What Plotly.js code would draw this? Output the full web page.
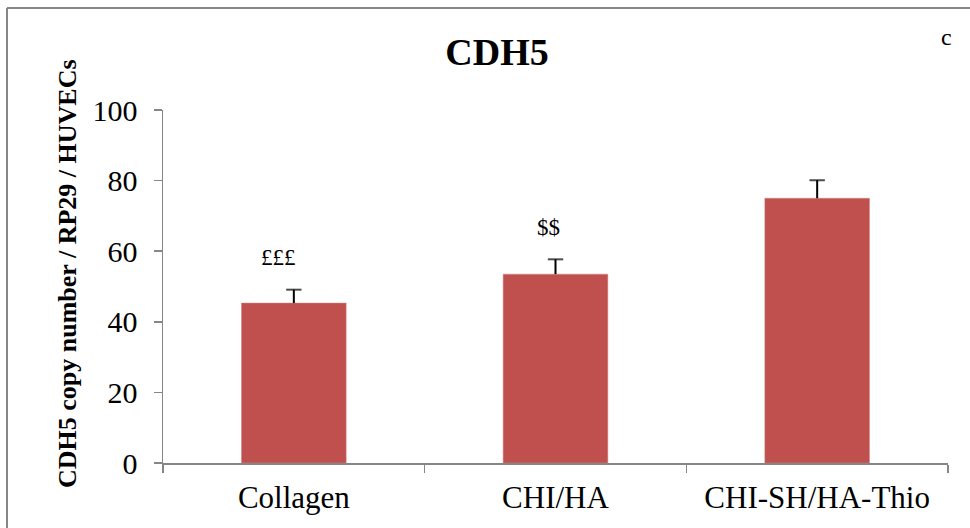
<!DOCTYPE html>
<html>
<head>
<meta charset="utf-8">
<script src="https://cdn.plot.ly/plotly-3.0.1.min.js"></script>
<style>html,body{margin:0;padding:0;background:#fff;}#chart{width:970px;height:528px;}</style>
</head>
<body>
<div id="chart"></div>
<script>
// ---- data ----
const categories = ['Collagen', 'CHI/HA', 'CHI-SH/HA-Thio'];
const values = [45.3, 53.5, 75.0];
const errPlus = [3.8, 4.2, 5.1];
const sigLabels = ['£££', '$$', ''];
const yTicks = [0, 20, 40, 60, 80, 100];
const titleText = 'CDH5';
const yTitleText = 'CDH5 copy number / RP29 / HUVECs';
const panelLabel = 'c';

const FONT = "Liberation Serif, Times New Roman, serif";
const L = 163, R = 948, T = 110, B = 463, W = 970, H = 528;
const px2paperX = x => (x - L) / (R - L);
const px2paperY = y => (B - y) / (B - T);

// error bars as plus-only whiskers
const ex = [], ey = [], es = [];
categories.forEach((c, i) => {
  ex.push(c, c, null);
  ey.push(values[i], values[i] + errPlus[i], null);
  es.push(0, 11, 0);
});

const traces = [
  {
    type: 'bar', x: categories, y: values,
    marker: {color: '#C0504D', line: {color: '#D08080', width: 0.5}},
    hoverinfo: 'x+y'
  },
  {
    type: 'scatter', mode: 'lines+markers', x: ex, y: ey,
    line: {color: '#000', width: 2},
    marker: {symbol: 'line-ew-open', size: es, color: '#000', line: {color: '#000', width: 2}},
    connectgaps: false, hoverinfo: 'skip', showlegend: false
  }
];

const sigY = [58.1, 66.6, 0];
const sigShift = [-15, -7, 0];
const annotations = [];
sigLabels.forEach((s, i) => {
  if (!s) return;
  annotations.push({
    xref: 'x', yref: 'y', x: categories[i], y: sigY[i], xshift: sigShift[i],
    text: s, showarrow: false, font: {family: FONT, size: 23, color: '#000'},
    xanchor: 'center', yanchor: 'middle'
  });
});
annotations.push({
  xref: 'paper', yref: 'paper', x: px2paperX(946), y: px2paperY(37),
  text: panelLabel, showarrow: false, font: {family: FONT, size: 24, color: '#000'},
  xanchor: 'center', yanchor: 'middle'
});
annotations.push({
  xref: 'paper', yref: 'paper', x: px2paperX(67), y: px2paperY(274),
  text: '<b>' + yTitleText + '</b>', textangle: -90, showarrow: false,
  font: {family: FONT, size: 26, color: '#000'},
  xanchor: 'center', yanchor: 'middle'
});

const layout = {
  width: W, height: H,
  margin: {l: L, r: W - R, t: T, b: H - B, pad: 0},
  paper_bgcolor: '#fff', plot_bgcolor: '#fff',
  showlegend: false,
  bargap: 0.6,
  title: {
    text: '<b>' + titleText + '</b>', xref: 'container', yref: 'container',
    x: 497 / W, y: 1 - 52 / H, xanchor: 'center', yanchor: 'middle',
    font: {family: FONT, size: 38, color: '#000'}
  },
  xaxis: {
    type: 'category', showline: true, linecolor: '#868686', linewidth: 1.5,
    ticks: 'outside', tickson: 'boundaries', ticklen: 8, tickcolor: '#868686', tickwidth: 1.5,
    showgrid: false, zeroline: false, ticklabelstandoff: 6,
    tickfont: {family: FONT, size: 31, color: '#000'}, automargin: false
  },
  yaxis: {
    range: [0, 100], tickvals: yTicks, ticktext: yTicks.map(v => v + '\u2004'),
    showline: true, linecolor: '#868686', linewidth: 1.5,
    ticks: 'outside', ticklen: 8, tickcolor: '#868686', tickwidth: 1.5,
    showgrid: false, zeroline: false,
    tickfont: {family: FONT, size: 30, color: '#000'},
    automargin: false
  },
  annotations: annotations,
  shapes: [
    {type: 'line', xref: 'paper', yref: 'paper', x0: px2paperX(7), x1: px2paperX(7), y0: px2paperY(8), y1: px2paperY(540), line: {color: '#878787', width: 2}},
    {type: 'line', xref: 'paper', yref: 'paper', x0: px2paperX(7), x1: px2paperX(980), y0: px2paperY(8), y1: px2paperY(8), line: {color: '#878787', width: 2}}
  ]
};

Plotly.newPlot('chart', traces, layout, {displayModeBar: false, staticPlot: true});
</script>
</body>
</html>
